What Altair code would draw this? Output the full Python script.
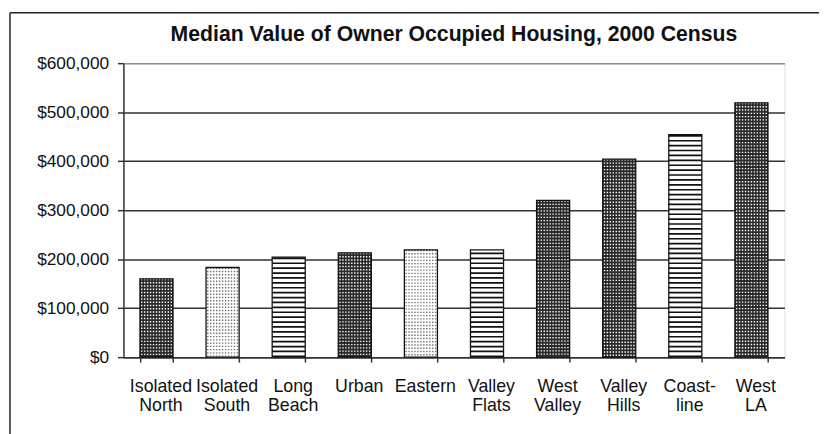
import altair as alt
import pandas as pd

# ---- data ----
categories = ["Isolated|North", "Isolated|South", "Long|Beach", "Urban", "Eastern",
              "Valley|Flats", "West|Valley", "Valley|Hills", "Coast-|line", "West|LA"]
values = [160000, 183000, 204000, 213000, 219000, 219000, 320000, 404000, 454000, 519000]
patterns = ["cross", "dots", "stripes", "cross", "dots", "stripes", "cross", "cross", "stripes", "cross"]
y_ticks = [0, 100000, 200000, 300000, 400000, 500000, 600000]
title = "Median Value of Owner Occupied Housing, 2000 Census"

df = pd.DataFrame({"region": categories, "value": values, "pattern": patterns})

W, H = 670, 298
FONT = "Liberation Sans, Arial, sans-serif"

x_enc = alt.X(
    "region:N", sort=categories,
    scale=alt.Scale(paddingInner=0.5, paddingOuter=0.25),
    axis=alt.Axis(
        title=None, labelAngle=0, labelExpr="split(datum.label, '|')",
        tickBand="extent", grid=False, tickSize=5, tickColor="#333", tickWidth=1.5,
        domainColor="#333", domainWidth=1.5,
        labelFont=FONT, labelFontSize=18, labelColor="#111",
        labelBaseline="top", labelPadding=16, labelLineHeight=19,
        labelAlign="center", labelOffset=4,
    ),
)
y_enc = alt.Y(
    "value:Q",
    scale=alt.Scale(domain=[0, 600000], nice=False),
    axis=alt.Axis(
        title=None, values=y_ticks, format="$,.0f",
        grid=True, gridWidth=1.5,
        gridColor={"condition": {"test": "datum.value === 600000", "value": "#8c8c8c"}, "value": "#333"},
        tickSize=6, tickColor="#333", tickWidth=1.5,
        domainColor="#333", domainWidth=1.5,
        labelFont=FONT, labelFontSize=17.5, labelColor="#111",
        labelPadding=9,
    ),
)

xs = alt.X("region:N", sort=categories)
base = alt.Chart(df)

bars = base.mark_bar().encode(
    x=x_enc, y=y_enc,
    color=alt.Color("pattern:N", legend=None,
                    scale=alt.Scale(domain=["cross", "dots", "stripes"],
                                    range=["#2a2a2a", "#ffffff", "#ffffff"])),
)

# texture: dotted grids drawn as dashed vertical rules inside the bars
texture_layers = []
for pat, col in [("cross", "#ffffff"), ("dots", "#707070")]:
    for off in range(-15, 16, 3):
        texture_layers.append(
            base.transform_filter(f"datum.pattern === '{pat}'")
            .mark_rule(color=col, strokeWidth=1.4, strokeDash=[1.4, 1.9], xOffset=off)
            .encode(x=xs, y="value:Q", y2=alt.datum(0))
        )

stripes = (
    base.transform_filter("datum.pattern === 'stripes'")
    .transform_calculate(s="sequence(0, datum.value, 10000)")
    .transform_flatten(["s"])
    .transform_calculate(s2="min(datum.s + 3400, datum.value)")
    .mark_bar(color="#111")
    .encode(x=xs, y="s:Q", y2="s2:Q")
)

outline = base.mark_bar(stroke="#111", strokeWidth=1.3, fillOpacity=0).encode(
    x=xs, y="value:Q"
)

one = pd.DataFrame({"f": [1]})
frame_left = alt.Chart(one).mark_rule(color="#222", strokeWidth=1.5).encode(
    x=alt.value(-115), y=alt.value(-51), y2=alt.value(376))
frame_top = alt.Chart(one).mark_rule(color="#222", strokeWidth=1.5).encode(
    x=alt.value(-115), x2=alt.value(705), y=alt.value(-51))

chart = (
    alt.layer(bars, *texture_layers, stripes, outline, frame_left, frame_top)
    .properties(
        width=W, height=H,
        padding={"left": 1, "top": 1, "right": 0, "bottom": 0},
        title=alt.TitleParams(
            title, font=FONT, fontWeight="bold",
            fontSize=21.5, color="#111", anchor="middle", frame="group",
            baseline="alphabetic", offset=-51,
        ),
    )
    .configure_view(stroke="#8c8c8c", strokeWidth=1.5)
    .configure(background="white")
)

chart.save("out.html", embed_options={"renderer": "svg", "actions": False})
